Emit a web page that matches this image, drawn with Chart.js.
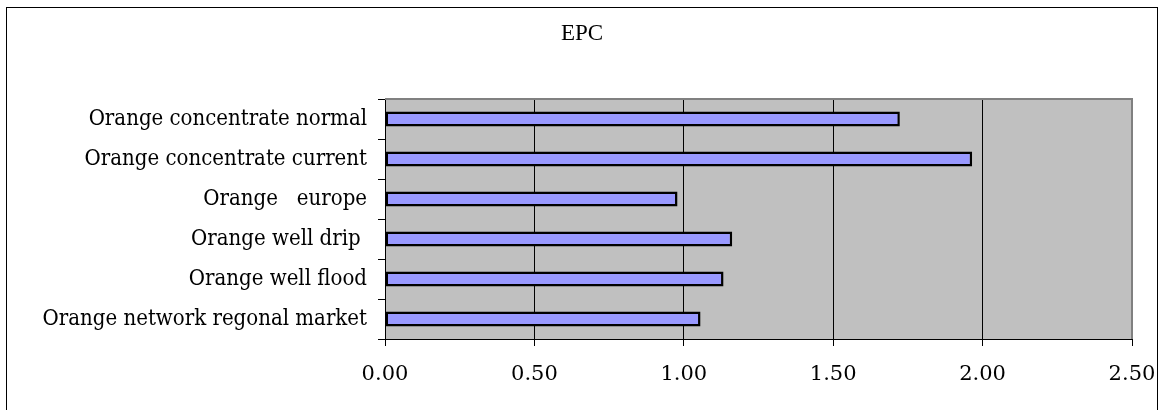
<!DOCTYPE html>
<html>
<head>
<meta charset="utf-8">
<script src="https://cdn.jsdelivr.net/npm/chart.js@4/dist/chart.umd.min.js"></script>
<style>
html,body{margin:0;padding:0;background:#fff;}
#wrap{position:relative;width:1162px;height:410px;}
</style>
</head>
<body>
<div id="wrap"><canvas id="c" width="1162" height="410"></canvas></div>
<script>
const categories = [
  "Orange concentrate normal",
  "Orange concentrate current",
  "Orange   europe",
  "Orange well drip ",
  "Orange well flood",
  "Orange network regonal market"
];
const epcValues = [1.723, 1.965, 0.979, 1.162, 1.133, 1.056];
const xTickValues = [0, 0.5, 1.0, 1.5, 2.0, 2.5];
const chartTitle = "EPC";

const frame = {
  id: 'frame',
  beforeDraw(chart) {
    const ctx = chart.ctx, a = chart.chartArea;
    ctx.save();
    ctx.fillStyle = '#ffffff';
    ctx.fillRect(0, 0, chart.width, chart.height);
    ctx.strokeStyle = '#000000';
    ctx.lineWidth = 1;
    ctx.strokeRect(6.5, 7.5, 1151, 420);
    ctx.fillStyle = '#c0c0c0';
    ctx.fillRect(a.left, a.top, a.right - a.left, a.bottom - a.top);
    ctx.restore();
  },
  afterDraw(chart) {
    const ctx = chart.ctx, a = chart.chartArea;
    ctx.save();
    ctx.strokeStyle = '#808080';
    ctx.lineWidth = 2;
    ctx.beginPath();
    ctx.moveTo(a.left, a.top);
    ctx.lineTo(a.right, a.top);
    ctx.lineTo(a.right, a.bottom);
    ctx.stroke();
    ctx.restore();
  }
};

new Chart(document.getElementById('c'), {
  type: 'bar',
  data: {
    labels: categories,
    datasets: [{
      data: epcValues,
      backgroundColor: '#9999ff',
      borderColor: '#000000',
      borderWidth: 2.5,
      borderSkipped: false,
      barPercentage: 0.38,
      categoryPercentage: 1.0
    }]
  },
  options: {
    indexAxis: 'y',
    responsive: false,
    animation: false,
    devicePixelRatio: 1,
    layout: { padding: { left: 32, right: 30, top: 0, bottom: 0 } },
    plugins: {
      legend: { display: false },
      tooltip: { enabled: false },
      title: {
        display: true,
        text: chartTitle,
        color: '#000000',
        font: { family: 'Liberation Serif', size: 23, weight: 'normal', lineHeight: 1.2 },
        padding: { top: 20.2, bottom: 51.2 }
      }
    },
    scales: {
      x: {
        type: 'linear',
        min: 0,
        max: 2.5,
        afterBuildTicks(scale) { scale.ticks = xTickValues.map(v => ({ value: v })); },
        afterFit(scale) { scale.height = 71; scale.paddingLeft = 0; scale.paddingRight = 0; },
        grid: {
          color: '#000000',
          lineWidth: 1,
          tickLength: 7,
          drawOnChartArea: true
        },
        border: { color: '#000000', width: 1 },
        ticks: {
          color: '#000000',
          padding: 16,
          maxRotation: 0,
          font: { family: 'DejaVu Serif', size: 21 },
          callback: v => Number(v).toFixed(2)
        }
      },
      y: {
        type: 'category',
        afterFit(scale) { scale.width = 353; scale.paddingTop = 0; scale.paddingBottom = 0; },
        grid: {
          offset: true,
          color: '#000000',
          drawOnChartArea: false,
          tickLength: 7
        },
        border: { color: '#000000', width: 1 },
        ticks: {
          color: '#000000',
          padding: 11,
          font: { family: "'DejaVu Serif Condensed', 'DejaVu Serif'", size: 22 }
        }
      }
    }
  },
  plugins: [frame]
});
</script>
</body>
</html>
